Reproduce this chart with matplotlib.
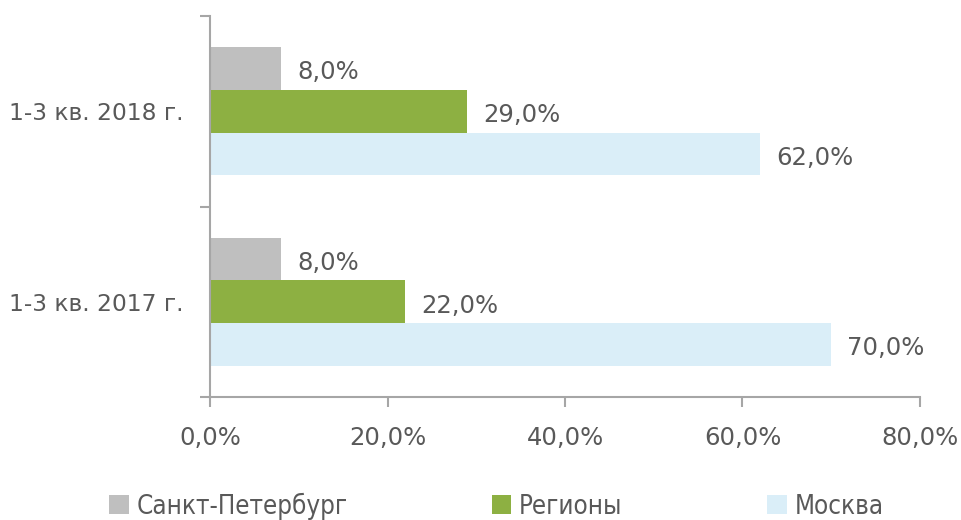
import numpy as np
from matplotlib import pyplot as plt

# data
periods = ['1-3 кв. 2017 г.', '1-3 кв. 2018 г.']
series = ['Санкт-Петербург', 'Регионы', 'Москва']
spb = [8.0, 8.0]
regions = [22.0, 29.0]
moscow = [70.0, 62.0]
xticks = [0, 20, 40, 60, 80]

colors = ['#BFBFBF', '#8DB042', '#DAEEF8']
txt = '#595959'
axc = '#A6A6A6'

fig = plt.figure(figsize=(9.62, 5.2), dpi=100)
ax = fig.add_axes([210/962, 1-397/520, 710/962, 381/520])

y = np.arange(len(periods))
h = 0.224
vals = [spb, regions, moscow]
offs = [h, 0, -h]
bars = []
for v, o, c, name in zip(vals, offs, colors, series):
    b = ax.barh(y + o, v, height=h, color=c, label=name)
    bars.append(b)
    for yi, vi in zip(y, v):
        ax.text(vi + 1.8, yi + o - 0.02, ('%.1f%%' % vi).replace('.', ','),
                va='center', ha='left', fontsize=17.5, color=txt)

ax.set_xlim(0, 80)
ax.set_ylim(-0.5, 1.5)
ax.set_xticks(xticks)
ax.set_xticklabels([('%.1f%%' % t).replace('.', ',') for t in xticks])
ax.set_yticks([-0.5, 0.5, 1.5])
ax.set_yticklabels([])
ax.set_yticks(y, minor=True)
ax.set_yticklabels(periods, minor=True)
ax.tick_params(axis='y', which='minor', length=0, pad=19, labelsize=16.8, labelcolor=txt)
ax.tick_params(axis='y', which='major', length=7, width=1.5, color=axc)
ax.tick_params(axis='x', length=7, width=1.5, color=axc, labelsize=17.5, labelcolor=txt, pad=14)

for s in ['top', 'right']:
    ax.spines[s].set_visible(False)
for s in ['left', 'bottom']:
    ax.spines[s].set_color(axc)
    ax.spines[s].set_linewidth(1.5)

leg = fig.legend(handles=bars, labels=series, loc='center', bbox_to_anchor=(0.516, 1-506/520),
                 ncol=3, frameon=False, handlelength=0.75, handleheight=0.75,
                 handletextpad=0.3, columnspacing=5.6,
                 prop={'family': 'DejaVu Sans', 'stretch': 'condensed', 'size': 18.6})
for t in leg.get_texts():
    t.set_color(txt)

fig.savefig('out.png', dpi=100)
